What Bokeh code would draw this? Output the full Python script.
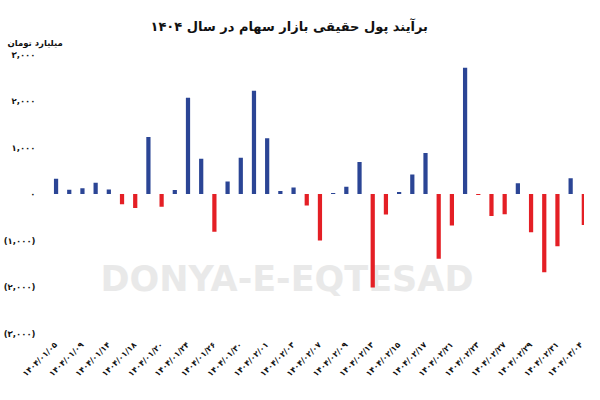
from math import pi
from bokeh.plotting import figure
from bokeh.models import Range1d, FixedTicker, Label, ColumnDataSource, Title
from bokeh.embed import file_html
from bokeh.resources import INLINE

title_text = "برآیند پول حقیقی بازار سهام در سال ۱۴۰۴"
unit_text = "میلیارد تومان"
watermark_text = "DONYA-E-EQTESAD"

# net real-money flow per trading day (billion tomans)
values = [330, 95, 125, 245, 100, -220, -300, 1230, -270, 90,
          2070, 760, -810, 270, 780, 2220, 1200, 65, 140, -245,
          -1000, 25, 160, 690, -2010, -440, 45, 420, 885, -1390,
          -675, 2715, -20, -470, -435, 235, -820, -1680, -1120, 340,
          -665]

# labels shown on every other trading day
date_labels = ["۱۴۰۴/۰۱/۰۵", "۱۴۰۴/۰۱/۰۹", "۱۴۰۴/۰۱/۱۴", "۱۴۰۴/۰۱/۱۸",
               "۱۴۰۴/۰۱/۲۰", "۱۴۰۴/۰۱/۲۴", "۱۴۰۴/۰۱/۲۶", "۱۴۰۴/۰۱/۳۰",
               "۱۴۰۴/۰۲/۰۱", "۱۴۰۴/۰۲/۰۳", "۱۴۰۴/۰۲/۰۷", "۱۴۰۴/۰۲/۰۹",
               "۱۴۰۴/۰۲/۱۳", "۱۴۰۴/۰۲/۱۵", "۱۴۰۴/۰۲/۱۷", "۱۴۰۴/۰۲/۲۱",
               "۱۴۰۴/۰۲/۲۳", "۱۴۰۴/۰۲/۲۷", "۱۴۰۴/۰۲/۲۹", "۱۴۰۴/۰۲/۳۱",
               "۱۴۰۴/۰۳/۰۴"]

y_ticks = [-3000, -2000, -1000, 0, 1000, 2000, 3000]
y_tick_labels = ["(۳,۰۰۰)", "(۲,۰۰۰)", "(۱,۰۰۰)", "۰", "۱,۰۰۰", "۲,۰۰۰", "۳,۰۰۰"]

BLUE = "#2b4595"
RED = "#e41f25"
FONT = "DejaVu Sans"

idx = list(range(len(values)))
colors = [BLUE if v >= 0 else RED for v in values]
src = ColumnDataSource(dict(x=idx, top=values, color=colors))

p = figure(width=584, height=384, output_backend="svg", toolbar_location=None,
           x_range=Range1d(-0.8, len(values) - 1 + 0.05),
           y_range=Range1d(-3040, 3130),
           min_border_left=2, min_border_right=0, min_border_top=48, min_border_bottom=0)

# unit title (closest to the frame) then the main title above it
unit_title = Title(text=unit_text, align="left", offset=-38, text_font=FONT,
                   text_font_size="8.5px", text_font_style="bold",
                   text_color="#111111", standoff=2)
p.add_layout(unit_title, "above")
main_title = Title(text=title_text, align="left", offset=105, text_font=FONT,
                   text_font_size="13px", text_font_style="bold",
                   text_color="#111111", standoff=2)
p.add_layout(main_title, "above")

p.outline_line_color = None
p.xgrid.grid_line_color = None
p.ygrid.grid_line_color = None

wm = Label(x=17.5, y=-1830, text=watermark_text, text_align="center",
           text_baseline="middle", text_font=FONT, text_font_size="35px",
           text_font_style="bold", text_color="#e9e9e9", level="underlay")
p.add_layout(wm)

p.vbar(x="x", top="top", bottom=0, width=0.32, fill_color="color",
       line_color=None, source=src)

# x axis
p.xaxis.ticker = FixedTicker(ticks=idx[::2])
p.xaxis.major_label_overrides = {i: lab for i, lab in zip(idx[::2], date_labels)}
p.xaxis.major_label_orientation = pi / 4
p.xaxis.axis_line_color = None
p.xaxis.major_tick_line_color = None
p.xaxis.minor_tick_line_color = None
p.xaxis.major_label_text_font = FONT
p.xaxis.major_label_text_font_size = "8px"
p.xaxis.major_label_text_font_style = "bold"
p.xaxis.major_label_text_color = "#111111"
p.xaxis.major_label_standoff = 2

# y axis
p.yaxis.ticker = FixedTicker(ticks=y_ticks)
p.yaxis.major_label_overrides = {t: lab for t, lab in zip(y_ticks, y_tick_labels)}
p.yaxis.axis_line_color = None
p.yaxis.major_tick_line_color = None
p.yaxis.minor_tick_line_color = None
p.yaxis.major_label_text_font = FONT
p.yaxis.major_label_text_font_size = "8.5px"
p.yaxis.major_label_text_font_style = "bold"
p.yaxis.major_label_text_color = "#111111"
p.yaxis.major_label_standoff = 4

open("out.html", "w").write(file_html(p, INLINE))
